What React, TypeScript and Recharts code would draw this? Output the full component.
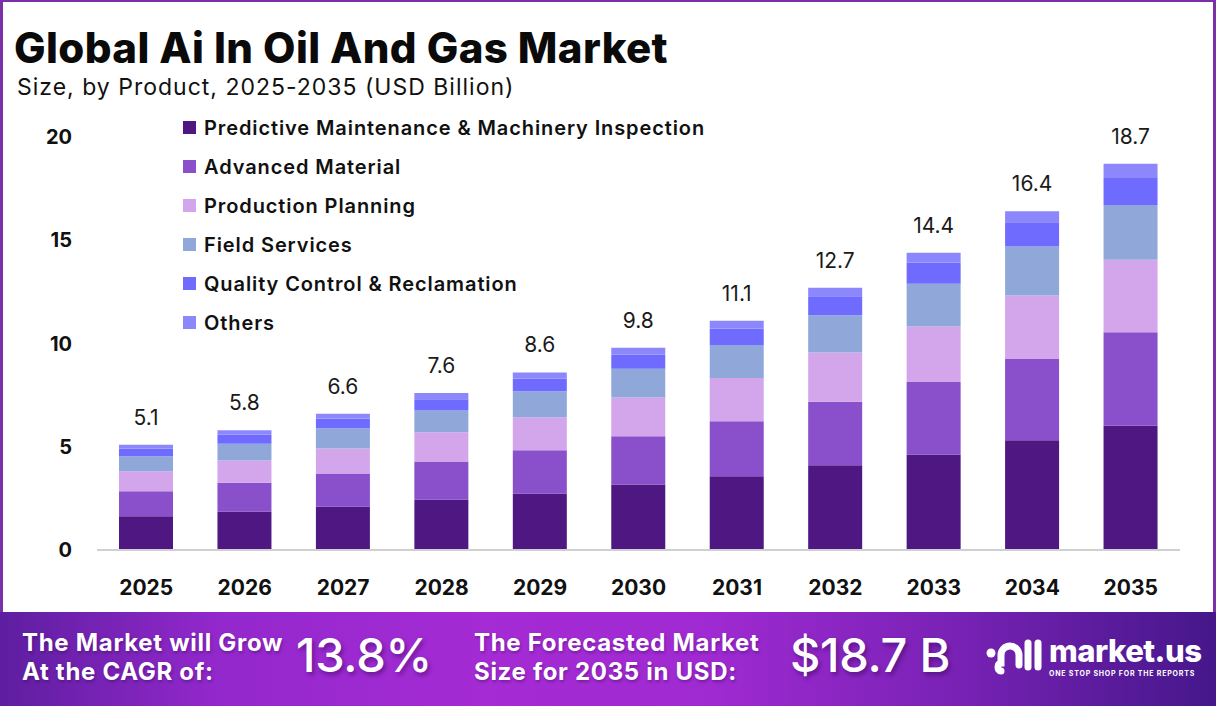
import { BarChart, Bar, XAxis, YAxis, LabelList } from "recharts";

const YEARS = ["2025", "2026", "2027", "2028", "2029", "2030", "2031", "2032", "2033", "2034", "2035"];

// USD billion, per product segment
const PREDICTIVE = [1.63, 1.86, 2.11, 2.44, 2.74, 3.17, 3.57, 4.1, 4.62, 5.32, 6.02];
const ADVANCED = [1.22, 1.4, 1.59, 1.84, 2.09, 2.34, 2.66, 3.08, 3.52, 3.93, 4.53];
const PRODUCTION = [0.96, 1.07, 1.22, 1.42, 1.6, 1.87, 2.1, 2.39, 2.68, 3.07, 3.5];
const FIELD = [0.73, 0.82, 0.98, 1.06, 1.26, 1.4, 1.6, 1.8, 2.07, 2.38, 2.66];
const QUALITY = [0.37, 0.43, 0.47, 0.54, 0.6, 0.68, 0.78, 0.92, 1.02, 1.17, 1.31];
const OTHERS = [0.19, 0.22, 0.23, 0.3, 0.31, 0.34, 0.39, 0.41, 0.49, 0.53, 0.68];

const Y_TICKS = [0, 5, 10, 15, 20];

const CAGR = "13.8%";
const FORECAST = "$18.7 B";

const SERIES = [
  { key: "predictive", name: "Predictive Maintenance & Machinery Inspection", color: "#4f1782", values: PREDICTIVE },
  { key: "advanced", name: "Advanced Material", color: "#8a4fcb", values: ADVANCED },
  { key: "production", name: "Production Planning", color: "#d3a5ea", values: PRODUCTION },
  { key: "field", name: "Field Services", color: "#8fa8d9", values: FIELD },
  { key: "quality", name: "Quality Control & Reclamation", color: "#6e6bfe", values: QUALITY },
  { key: "others", name: "Others", color: "#8c88fb", values: OTHERS },
];

const data = YEARS.map((year, i) => {
  const row: Record<string, number | string> = { year };
  let sum = 0;
  SERIES.forEach((s) => {
    row[s.key] = s.values[i];
    sum += s.values[i];
  });
  row.total = Math.round(sum * 10) / 10;
  return row;
});

const FONT = "Inter, 'Open Sans', sans-serif";

const footerLabel = {
  position: "absolute" as const,
  top: 16,
  fontSize: 24,
  fontWeight: 700,
  lineHeight: "29px",
  letterSpacing: 0.7,
  textShadow: "1px 2px 3px rgba(40,0,70,0.35)",
};

const footerValue = {
  position: "absolute" as const,
  top: 14,
  fontSize: 47,
  fontWeight: 500,
  lineHeight: "58px",
  letterSpacing: -0.3,
  textShadow: "2px 3px 4px rgba(40,0,70,0.45)",
};

function Logo() {
  return (
    <div style={{ position: "absolute", left: 985, top: 633, display: "flex", alignItems: "center" }}>
      <svg width="58" height="46" viewBox="0 0 58 46">
        <circle cx="6" cy="20" r="4.5" fill="#fff" />
        <path
          d="M16 38 C 12 38 12 30 16 30 L 16 22 A 9 9 0 0 1 34 22 L 34 32"
          fill="none"
          stroke="#fff"
          strokeWidth="7"
          strokeLinecap="round"
        />
        <line x1="43" y1="10" x2="43" y2="34" stroke="#fff" strokeWidth="7" strokeLinecap="round" />
        <line x1="53" y1="10" x2="53" y2="34" stroke="#fff" strokeWidth="7" strokeLinecap="round" />
      </svg>
      <div style={{ marginLeft: 6, color: "#fff" }}>
        <div style={{ fontSize: 31, fontWeight: 800, lineHeight: "34px", letterSpacing: -0.5 }}>market.us</div>
        <div style={{ fontSize: 7, fontWeight: 700, letterSpacing: 0.8, marginTop: 1 }}>
          ONE STOP SHOP FOR THE REPORTS
        </div>
      </div>
    </div>
  );
}

export default function App() {
  return (
    <div
      style={{
        position: "absolute",
        left: 0,
        top: 0,
        width: 1216,
        height: 706,
        background: "#fff",
        fontFamily: FONT,
        overflow: "hidden",
      }}
    >
      <div
        style={{
          position: "absolute",
          left: 0,
          top: 0,
          width: 1216,
          height: 614,
          boxSizing: "border-box",
          borderLeft: "3px solid #7b2fa8",
          borderTop: "2px solid #7b2fa8",
          borderRight: "3px solid #7b2fa8",
        }}
      />
      <div
        style={{
          position: "absolute",
          left: 14,
          top: 25,
          fontSize: 42,
          fontWeight: 800,
          color: "#0a0a0a",
          letterSpacing: 0.4,
          lineHeight: "46px",
        }}
      >
        Global Ai In Oil And Gas Market
      </div>
      <div
        style={{ position: "absolute", left: 17, top: 72, fontSize: 23, color: "#111", lineHeight: "30px", letterSpacing: 1 }}
      >
        Size, by Product, 2025-2035 (USD Billion)
      </div>

      <div style={{ position: "absolute", left: 0, top: 0 }}>
        <BarChart width={1216} height={612} data={data} margin={{ top: 137, right: 36, bottom: 0, left: 0 }}>
          <XAxis
            dataKey="year"
            height={62}
            tickLine={false}
            axisLine={{ stroke: "#d0d0d0", strokeWidth: 2 }}
            tickMargin={24}
            tick={{ fill: "#111", fontSize: 21, fontWeight: 700, fontFamily: FONT }}
          />
          <YAxis
            width={97}
            domain={[0, 20]}
            ticks={Y_TICKS}
            axisLine={false}
            tickLine={false}
            tickMargin={19}
            tick={{ fill: "#111", fontSize: 20, fontWeight: 700, fontFamily: FONT }}
          />
          {SERIES.map((s, idx) => (
            <Bar key={s.key} dataKey={s.key} name={s.name} stackId="a" fill={s.color} barSize={54} isAnimationActive={false}>
              {idx === SERIES.length - 1 && (
                <LabelList
                  dataKey="total"
                  position="top"
                  offset={20}
                  formatter={(v: number) => v.toFixed(1)}
                  style={{ fill: "#1a1a1a", fontSize: 21, fontFamily: FONT, fontWeight: 400 }}
                />
              )}
            </Bar>
          ))}
        </BarChart>
      </div>

      {/* legend */}
      <div style={{ position: "absolute", left: 183, top: 108 }}>
        {SERIES.map((s) => (
          <div key={s.key} style={{ display: "flex", alignItems: "center", height: 39 }}>
            <div style={{ width: 13, height: 13, background: s.color, marginRight: 8 }} />
            <div style={{ fontSize: 20, fontWeight: 600, color: "#111", letterSpacing: 0.9 }}>{s.name}</div>
          </div>
        ))}
      </div>

      {/* footer band */}
      <div
        style={{
          position: "absolute",
          left: 0,
          top: 612,
          width: 1216,
          height: 94,
          background:
            "linear-gradient(90deg, #5e1ea0 0%, #9328cc 18%, #a52bd4 40%, #a02ad2 58%, #7a22b6 78%, #45178a 100%)",
          color: "#fff",
        }}
      >
        <div style={{ ...footerLabel, left: 22 }}>
          The Market will Grow
          <br />
          At the CAGR of:
        </div>
        <div style={{ ...footerValue, left: 296 }}>{CAGR}</div>
        <div style={{ ...footerLabel, left: 474 }}>
          The Forecasted Market
          <br />
          Size for 2035 in USD:
        </div>
        <div style={{ ...footerValue, left: 790 }}>{FORECAST}</div>
      </div>
      <Logo />
    </div>
  );
}
